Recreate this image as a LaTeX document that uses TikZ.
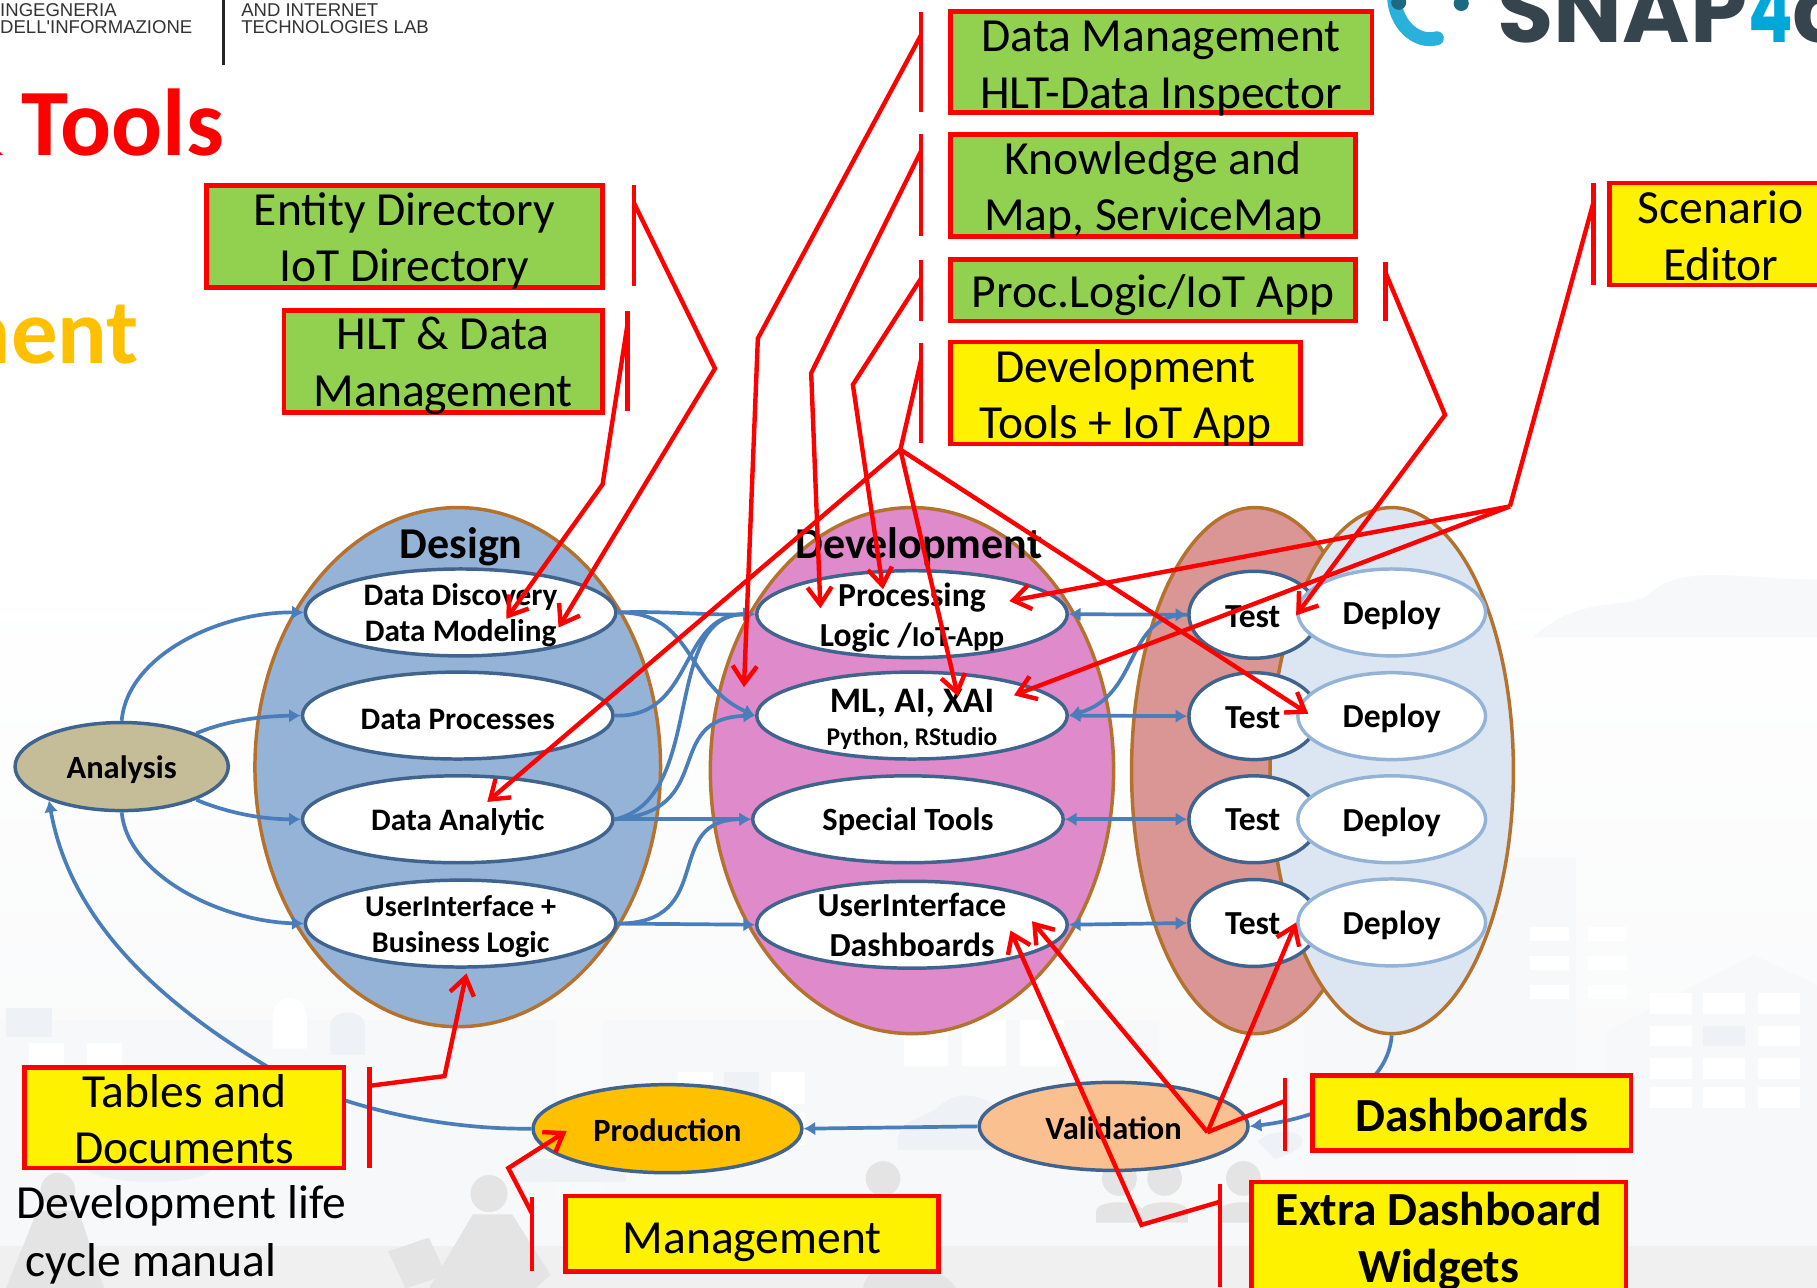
\documentclass[tikz,border=0pt]{standalone}
\usepackage{fontspec}
\setmainfont{Carlito}
\newfontfamily\arialf{Liberation Sans}
\newfontfamily\logof{Poppins}
\usetikzlibrary{arrows.meta,shapes.geometric}
\newcommand\fs[2]{\fontsize{#1}{#2}\selectfont}
\newcommand\dn[1]{\rule{0pt}{#1pt}}
\definecolor{bluefill}{HTML}{95B3D7}
\definecolor{devfill}{HTML}{DE8ACB}
\definecolor{testfill}{HTML}{D99694}
\definecolor{depfill}{HTML}{DCE6F2}
\definecolor{brownline}{HTML}{B5722F}
\definecolor{navyline}{HTML}{41648F}
\definecolor{linkblue}{HTML}{4A7EBB}
\definecolor{boxgreen}{HTML}{92D050}
\definecolor{bgA}{HTML}{F7F8F9}
\definecolor{bgB}{HTML}{EEF2F6}
\definecolor{bgC}{HTML}{E4E4E4}
\definecolor{amber}{HTML}{FFC000}
\definecolor{tan}{HTML}{C4BD97}
\definecolor{peach}{HTML}{FAC090}
\definecolor{logoarc}{HTML}{29B1DC}
\definecolor{logodot}{HTML}{1E6982}
\definecolor{logodark}{HTML}{36454D}
\definecolor{logofour}{HTML}{00A7D9}
\tikzset{
  bigell/.style={ellipse,draw=brownline,line width=3pt,inner sep=0pt},
  inell/.style={ellipse,draw=navyline,fill=white,line width=3pt,inner xsep=0pt,inner ysep=-18pt,minimum width=268pt,minimum height=75pt,align=center,font=\bfseries\fs{27}{31}},
  testell/.style={ellipse,draw=navyline,fill=white,line width=3pt,inner sep=0pt,minimum width=112pt,minimum height=75pt},
  depell/.style={ellipse,draw=bluefill,fill=white,line width=3pt,inner xsep=0pt,inner ysep=-10pt,minimum width=162pt,minimum height=75pt,align=center,font=\bfseries\fs{29}{33}},
  stageell/.style={ellipse,draw=navyline,line width=3pt,inner xsep=0pt,inner ysep=-10pt,minimum height=76pt,align=center,font=\bfseries\fs{28}{32}},
  tagbox/.style={rectangle,draw=red,line width=4pt,inner xsep=0pt,inner ysep=-14pt,align=center,font=\fs{41}{49}},
  greenbox/.style={tagbox,fill=boxgreen},
  yellowbox/.style={tagbox,fill=yellow},
  redbar/.style={rectangle,fill=red,inner sep=0pt,minimum width=3.8pt},
  link/.style={draw=linkblue,line width=3.2pt},
  linkto/.style={link,-{Latex[length=10pt,width=12pt]}},
  linkboth/.style={link,{Latex[length=10pt,width=12pt]}-{Latex[length=10pt,width=12pt]}},
  redlink/.style={draw=red,line width=3.8pt,line join=miter},
  redto/.style={redlink,-{Straight Barb[length=15pt,width=21pt]}},
  hdr/.style={font=\arialf\fs{16}{16},text=black!80,anchor=base west,inner sep=0pt}
}
\begin{document}
\begin{tikzpicture}[x=1pt,y=-1pt]
\useasboundingbox (0,0) rectangle (1568,1111.4);
\clip (0,0) rectangle (1568,1111.4);
% background scene
\fill[white] (0,0) rectangle (1568,1112);
\fill[top color=white,bottom color=bgA] (0,500) rectangle (1568,1075);
\fill[black!6] (0,1075) rectangle (1568,1112);
\fill[bgA] (1323,550) .. controls (1360,515) and (1400,525) .. (1420,515) .. controls (1450,485) and (1500,500) .. (1568,500) -- (1568,550) -- cycle;
\fill[bgA] (1387,890) -- (1513,824) -- (1568,850) -- (1568,1075) -- (1387,1075) -- cycle;
\foreach \wx in {1424,1470,1517}{\foreach \wy in {857,885,913,938}{\fill[white] (\wx,\wy) rectangle +(36,18);}}
\fill[bgB] (1470,885) rectangle +(36,18);
\fill[bgA] (1125,740) rectangle (1360,1075);
\foreach \wx in {1320,1370}{\foreach \wy in {800,825,850}{\fill[white] (\wx,\wy) rectangle +(34,12);}}
\fill[bgA] (0,880) rectangle (480,1075);
\foreach \wx in {25,75}{\fill[white] (\wx,900) rectangle +(30,25);}
\fill[bgB] (5,870) rectangle +(40,25);
\fill[white] (235,880) .. controls (235,855) and (265,855) .. (265,880) -- (265,905) -- (235,905) -- cycle;
\fill[bgB] (285,885) .. controls (285,870) and (315,870) .. (315,885) -- (315,910) -- (285,910) -- cycle;
\fill[bgA] (520,880) rectangle (1000,1075);
\foreach \wx in {585,625,665}{\foreach \wy in {925,960}{\fill[white] (\wx,\wy) rectangle +(30,28);}}
\fill[bgB] (625,925) rectangle +(30,28);
\foreach \wx in {780,830,880}{\fill[white] (\wx,880) rectangle +(38,40);}
% clouds
\fill[bgB] (775,992) .. controls (770,965) and (800,965) .. (810,955) .. controls (830,935) and (860,950) .. (870,965) -- (900,992) -- cycle;
\fill[bgB] (1085,985) .. controls (1110,965) and (1150,985) .. (1100,1000) -- cycle;
\fill[bgB] (440,1000) rectangle (540,1020);
\fill[bgB] (70,1005) .. controls (90,1000) and (170,1000) .. (185,1005) .. controls (185,1025) and (80,1025) .. (70,1005) -- cycle;
% people
\fill[bgC] (50,1027) circle (15);
\fill[bgC] (32,1045) -- (68,1045) -- (90,1112) -- (5,1112) -- cycle;
\fill[bgC] (422,1030) circle (16);
\fill[bgC] (408,1048) -- (442,1048) -- (475,1100) -- (462,1112) -- (370,1112) -- cycle;
\fill[bgC] (335,1080) -- (370,1068) -- (385,1100) -- (350,1112) -- cycle;
\foreach \px in {762,966,1005,1073}{
  \fill[bgC] (\px,1017) circle (15);
  \fill[bgC] (\px-20,1055) -- (\px-20,1045) .. controls (\px-20,1035) and (\px+20,1035) .. (\px+20,1045) -- (\px+20,1055) -- cycle;}
\fill[bgC] (745,1112) .. controls (745,1085) and (810,1085) .. (825,1112) -- cycle;
% header logos and titles
\node[hdr] (hA) at (-4,-2) {DIPARTIMENTO DI};
\node[hdr] (hB) at (0,14.5) {INGEGNERIA};
\node[hdr] (hC) at (0,29) {DELL'INFORMAZIONE};
\node[hdr] (hD) at (208,-3) {DISTRIBUTED SYSTEMS};
\node[hdr] (hE) at (208,14.5) {AND INTERNET};
\node[hdr] (hF) at (208,29) {TECHNOLOGIES LAB};
\fill[black!85] (191.8,-1) rectangle (194.2,56);
\node[anchor=base east,inner sep=0pt,font=\bfseries\fs{82}{86},text=red] (tools) at (193.5,134) {\&\kern-3pt{} Tools};
\node[anchor=base east,inner sep=0pt,font=\bfseries\fs{80}{86},text=amber] (ment) at (120,314) {ment};
\draw[line width=12pt,line cap=round,draw=logoarc] (1203,-4) .. controls (1203,20) and (1222,38) .. (1240,33);
\fill[logodot] (1207,2) circle (6.5);
\fill[logodot] (1261,3) circle (6.5);
\node[anchor=base west,inner sep=0pt,font=\logof\bfseries\fs{79}{80},text=logodark] (snap) at (1292,37) {SNAP\hspace{1pt}{\color{logofour}\scalebox{.72}[1]{4}}city};
% phase ellipses
\node[bigell,fill=bluefill,minimum width=350pt,minimum height=448pt] (design) at (395,662) {};
\node[bigell,fill=devfill,minimum width=348pt,minimum height=454pt] (devel) at (787,665) {};
\node[bigell,fill=testfill,minimum width=213pt,minimum height=454pt] (testE) at (1083,665) {};
\node[bigell,fill=depfill,minimum width=210pt,minimum height=454pt] (deployE) at (1201,665) {};
\node[font=\bfseries\fs{38}{40},inner sep=0pt] (hdesign) at (398,472) {Design};
\node[font=\bfseries\fs{38}{40},inner sep=0pt] (hdevel) at (793,472) {Development};
% design activities
\node[inell] (dd) at (397.5,528.5) {\dn{24}Data Discovery\\Data Modeling};
\node[inell] (dp) at (395,617.5) {\dn{24}Data Processes};
\node[inell] (da) at (395,707) {\dn{24}Data Analytic};
\node[inell,font=\bfseries\fs{26}{31}] (ui) at (397.5,797) {\dn{23}UserInterface +\\Business Logic};
% development activities
\node[inell,font=\bfseries\fs{29}{34}] (pl) at (787,530) {\dn{26}Processing\\Logic /{\fs{25}{34}IoT-App}};
\node[inell,font=\bfseries\fs{31}{30}] (ml) at (787,617.5) {\dn{27}ML, AI, XAI\\[-2pt]{\fs{22}{30}Python, RStudio}};
\node[inell,font=\bfseries\fs{28}{32}] (st) at (783.5,707) {\dn{24}Special Tools};
\node[inell,font=\bfseries\fs{29}{35}] (uid) at (787,798) {UserInterface\\Dashboards};
% test and deploy
\node[testell] (t1) at (1082,530.5) {};
\node[testell] (t2) at (1082,618) {};
\node[testell] (t3) at (1082,707) {};
\node[testell] (t4) at (1082,796.5) {};
\node[font=\bfseries\fs{29}{33},inner sep=0pt] (tl1) at (1081,532) {Test};
\node[font=\bfseries\fs{29}{33},inner sep=0pt] (tl2) at (1081,619) {Test};
\node[font=\bfseries\fs{29}{33},inner sep=0pt] (tl3) at (1081,707) {Test};
\node[font=\bfseries\fs{29}{33},inner sep=0pt] (tl4) at (1081,797) {Test};
\node[depell] (dp1) at (1201,528.5) {\dn{25}Deploy};
\node[depell] (dp2) at (1201,618) {\dn{25}Deploy};
\node[depell] (dp3) at (1201,707) {\dn{25}Deploy};
\node[depell] (dp4) at (1201,796) {\dn{25}Deploy};
% stages
\node[stageell,fill=tan,minimum width=184pt] (an) at (105,661.5) {\dn{25}Analysis};
\node[stageell,fill=amber,minimum width=232pt] (prod) at (576,974) {\dn{22}Production};
\node[stageell,fill=peach,minimum width=232pt] (val) at (961,972) {\dn{22}Validation};
% blue connectors
\draw[linkto] (an.north) .. controls (110,565) and (190,528) .. (dd.west);
\draw[linkto] (an.24) .. controls (195,622) and (225,618) .. (dp.west);
\draw[linkto] (an.-24) .. controls (195,701) and (225,707) .. (da.west);
\draw[linkto] (an.south) .. controls (110,755) and (190,795) .. (ui.west);
\draw[linkto] (dd.east) .. controls (570,527) and (610,531) .. (pl.west);
\draw[linkto] (dd.east) .. controls (600,528) and (590,590) .. (ml.west);
\draw[linkto] (dp.east) .. controls (600,620) and (585,530) .. (pl.west);
\draw[linkto] (da.east) .. controls (610,690) and (570,530) .. (pl.west);
\draw[linkto] (da.east) .. controls (620,700) and (570,620) .. (ml.west);
\draw[linkto] (da.east) -- (st.west);
\draw[linkto] (ui.east) .. controls (620,797) and (570,707) .. (st.west);
\draw[linkto] (ui.east) -- (uid.west);
\draw[linkboth] (pl.east) -- (t1.west);
\draw[linkboth] (ml.east) -- (t2.west);
\draw[linkboth] (st.east) -- (t3.west);
\draw[linkboth] (uid.east) -- (t4.west);
\draw[linkto] (t1.west) .. controls (970,530) and (985,600) .. (ml.east);
\draw[linkto] (val.west) -- (prod.east);
\draw[linkto] (deployE.south) .. controls (1197,945) and (1130,966) .. (val.east);
\draw[linkto] (prod.west) .. controls (360,975) and (270,945) .. (230,920) .. controls (130,860) and (60,790) .. (an.205);
% tag boxes
\node[greenbox,minimum width=342pt,minimum height=88pt] (entity) at (349,204) {\dn{36}Entity Directory\\IoT Directory};
\node[greenbox,minimum width=275pt,minimum height=88pt] (hlt) at (382.5,312) {\dn{36}HLT \& Data\\Management};
\node[greenbox,minimum width=364pt,minimum height=87pt] (dmg) at (1002,53.5) {\dn{37}Data Management\\HLT-Data Inspector};
\node[greenbox,minimum width=350pt,minimum height=88pt] (km) at (995,160) {\dn{36}Knowledge and\\Map, ServiceMap};
\node[greenbox,minimum width=350pt,minimum height=53pt] (proc) at (995,250.5) {\dn{37}Proc.Logic/IoT App};
\node[yellowbox,minimum width=302pt,minimum height=88pt] (devt) at (971,339) {\dn{37}Development\\Tools + IoT App};
\node[yellowbox,minimum width=192pt,minimum height=88pt] (scen) at (1485,202) {\dn{31}Scenario\\Editor};
\node[yellowbox,minimum width=276pt,minimum height=87pt] (tables) at (159,964.5) {\dn{31}Tables and\\Documents};
\node[yellowbox,minimum width=322pt,minimum height=65pt] (mgmt) at (649,1064.5) {\dn{41}Management};
\node[yellowbox,font=\bfseries\fs{41}{49},minimum width=275pt,minimum height=65pt] (dash) at (1270,960.5) {\dn{33}Dashboards};
\node[yellowbox,font=\bfseries\fs{41}{49},minimum width=323pt,minimum height=96pt] (extra) at (1241.5,1068) {\dn{35}Extra Dashboard\\Widgets};
\node[anchor=west,align=left,font=\fs{41}{50},inner sep=0pt] (note) at (14,1066) {Development life\\\hspace*{8pt}cycle manual};
% side bars
\node[redbar,minimum height=87pt] (b1) at (547,203.5) {};
\node[redbar,minimum height=87pt] (b2) at (541.5,311.5) {};
\node[redbar,minimum height=87pt] (b3) at (795,53.5) {};
\node[redbar,minimum height=88pt] (b4) at (795,160) {};
\node[redbar,minimum height=53pt] (b5) at (795,250.5) {};
\node[redbar,minimum height=86pt] (b6) at (795,339) {};
\node[redbar,minimum height=51pt] (b7) at (1195.5,251.5) {};
\node[redbar,minimum height=88pt] (b8) at (1375,202) {};
\node[redbar,minimum height=87pt] (b9) at (319,964.5) {};
\node[redbar,minimum height=64pt] (b10) at (459,1065) {};
\node[redbar,minimum height=63pt] (b11) at (1109,961.5) {};
\node[redbar,minimum height=89pt] (b12) at (1053,1066.5) {};
% waypoints
\coordinate (w1) at (617,318);
\coordinate (w2) at (520,418);
\coordinate (w3) at (654,292);
\coordinate (w4) at (700,322);
\coordinate (w5) at (736,332);
\coordinate (w6) at (777,388);
\coordinate (w7) at (1247,358);
\coordinate (w8) at (1303,437);
\coordinate (w9) at (383.6,928.6);
\coordinate (w10) at (438.7,1008);
\coordinate (w11) at (1042,977);
\coordinate (w12) at (985,1057);
% red connectors
\draw[redto] ([shift={(0,-28.5)}]b1.center) -- (w1) -- ([shift={(84.5,13)}]dd.center);
\draw[redto] ([shift={(0,-31.5)}]b2.center) -- (w2) -- ([shift={(39.5,5.5)}]dd.center);
\draw[redto] ([shift={(0,-23.5)}]b3.center) -- (w3) -- ([shift={(-145,-24.5)}]ml.center);
\draw[redto] ([shift={(0,-30)}]b4.center) -- (w4) -- ([shift={(-79,-5)}]pl.center);
\draw[redto] ([shift={(0,-10.5)}]b5.center) -- (w5) -- ([shift={(-25,-21.5)}]pl.center);
\draw[redlink] ([shift={(0,-29)}]b6.center) -- (w6);
\draw[redto] (w6) -- ([shift={(25.5,-15)}]da.center);
\draw[redto] (w6) -- ([shift={(39.7,-16.5)}]ml.center);
\draw[redto] (w6) -- ([shift={(-72,-2)}]dp2.center);
\draw[redto] ([shift={(0,-16.5)}]b7.center) -- (w7) -- ([shift={(0,2.5)}]dp1.west);
\draw[redlink] ([shift={(0,-27)}]b8.center) -- (w8);
\draw[redto] (w8) -- ([shift={(84,-11.3)}]pl.center);
\draw[redto] (w8) -- ([shift={(88,-17.5)}]ml.center);
\draw[redto] ([shift={(0,-27.5)}]b9.center) -- (w9) -- ([shift={(5,43)}]ui.center);
\draw[redto] ([shift={(0,-18)}]b10.center) -- (w10) -- ([shift={(-87,2)}]prod.center);
\draw[redlink] ([shift={(0,-11.5)}]b11.center) -- (w11);
\draw[redto] (w11) -- ([shift={(103.6,-3)}]uid.center);
\draw[redto] (w11) -- (dp4.west);
\draw[redto] ([shift={(0,-29.5)}]b12.center) -- (w12) -- ([shift={(85,5)}]uid.center);
\end{tikzpicture}
\end{document}
